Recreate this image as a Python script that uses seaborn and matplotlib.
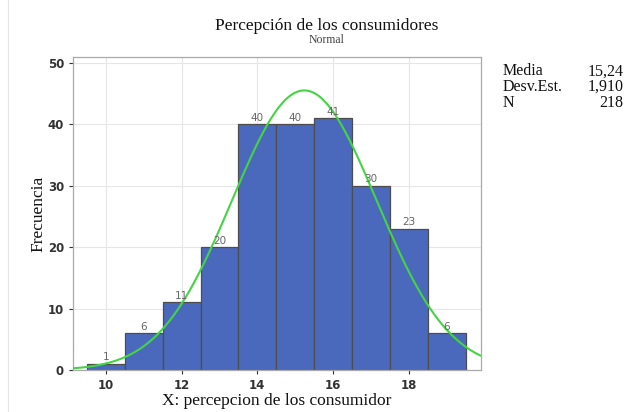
import numpy as np
import pandas as pd
import matplotlib
matplotlib.use("Agg")
import matplotlib.pyplot as plt
import seaborn as sns

# Frequency table of the consumer perception score
scores = [10, 11, 12, 13, 14, 15, 16, 17, 18, 19]
counts = [1, 6, 11, 20, 40, 40, 41, 30, 23, 6]
mean_val = 15.24
sd_val = 1.910
n_total = 218
x_ticks = [10, 12, 14, 16, 18]
y_ticks = [0, 10, 20, 30, 40, 50]

sns.set_theme(style="white")
plt.rcParams["font.family"] = ["DejaVu Sans"]

fig = plt.figure(figsize=(6.35, 4.12), dpi=100)
ax = fig.add_axes([0.115, 0.102, 0.642, 0.760])

df = pd.DataFrame({"score": scores, "count": counts})
sns.histplot(data=df, x="score", weights="count", discrete=True, ax=ax,
             color="#4A69BD", alpha=1.0, edgecolor="#4d4d4d", linewidth=0.9,
             zorder=2)

# Fitted normal curve scaled to counts (bin width 1)
xs = np.linspace(9.1, 19.9, 400)
ys = n_total * 1.0 / (sd_val * np.sqrt(2 * np.pi)) * np.exp(-0.5 * ((xs - mean_val) / sd_val) ** 2)
sns.lineplot(x=xs, y=ys, ax=ax, color="#44D444", linewidth=1.5, zorder=3)

ax.bar_label(ax.containers[0], labels=[str(c) for c in counts],
             fontsize=7.5, color="#666666", padding=1)

ax.set_xlim(9.13, 19.9)
ax.set_ylim(0, 51)
ax.set_xticks(x_ticks)
ax.set_yticks(y_ticks)
ax.tick_params(axis="both", labelsize=8.5, colors="#333333", length=3,
               width=0.8, direction="out", bottom=True, left=True)
for lbl in ax.get_xticklabels() + ax.get_yticklabels():
    lbl.set_fontweight("bold")
    lbl.set_color("#333333")
ax.grid(True, color="#e6e6e6", linewidth=0.8, zorder=0)
ax.set_axisbelow(True)
for sp in ax.spines.values():
    sp.set_color("#aaaaaa")
    sp.set_linewidth(0.9)

ax.set_xlabel("X: percepcion de los consumidor", family="Liberation Serif",
              fontsize=12.5, color="#111111", va="center")
ax.xaxis.set_label_coords(0.5, -0.099)
ax.set_ylabel("Frecuencia", family="Liberation Serif", fontsize=12.5,
              color="#111111", va="center")
ax.yaxis.set_label_coords(-0.086, 0.5)

fig.text(0.514, 0.938, "Percepción de los consumidores", ha="center", va="center",
         family="Liberation Serif", fontsize=12.5, color="#111111")
fig.text(0.514, 0.902, "Normal", ha="center", va="center",
         family="Liberation Serif", fontsize=8.5, color="#444444")

stats = [("Media", "15,24"), ("Desv.Est.", "1,910"), ("N", "218")]
for i, (k, v) in enumerate(stats):
    yy = 0.827 - i * 0.038
    fig.text(0.792, yy, k, ha="left", va="center", family="Liberation Serif",
             fontsize=11.5, color="#111111")
    fig.text(0.982, yy, v, ha="right", va="center", family="Liberation Serif",
             fontsize=11.5, color="#111111")

fig.add_artist(plt.Line2D([0.013, 0.013], [0.0, 1.0], color="#e4e4e4", linewidth=0.8))

fig.savefig("out.png", dpi=100)
